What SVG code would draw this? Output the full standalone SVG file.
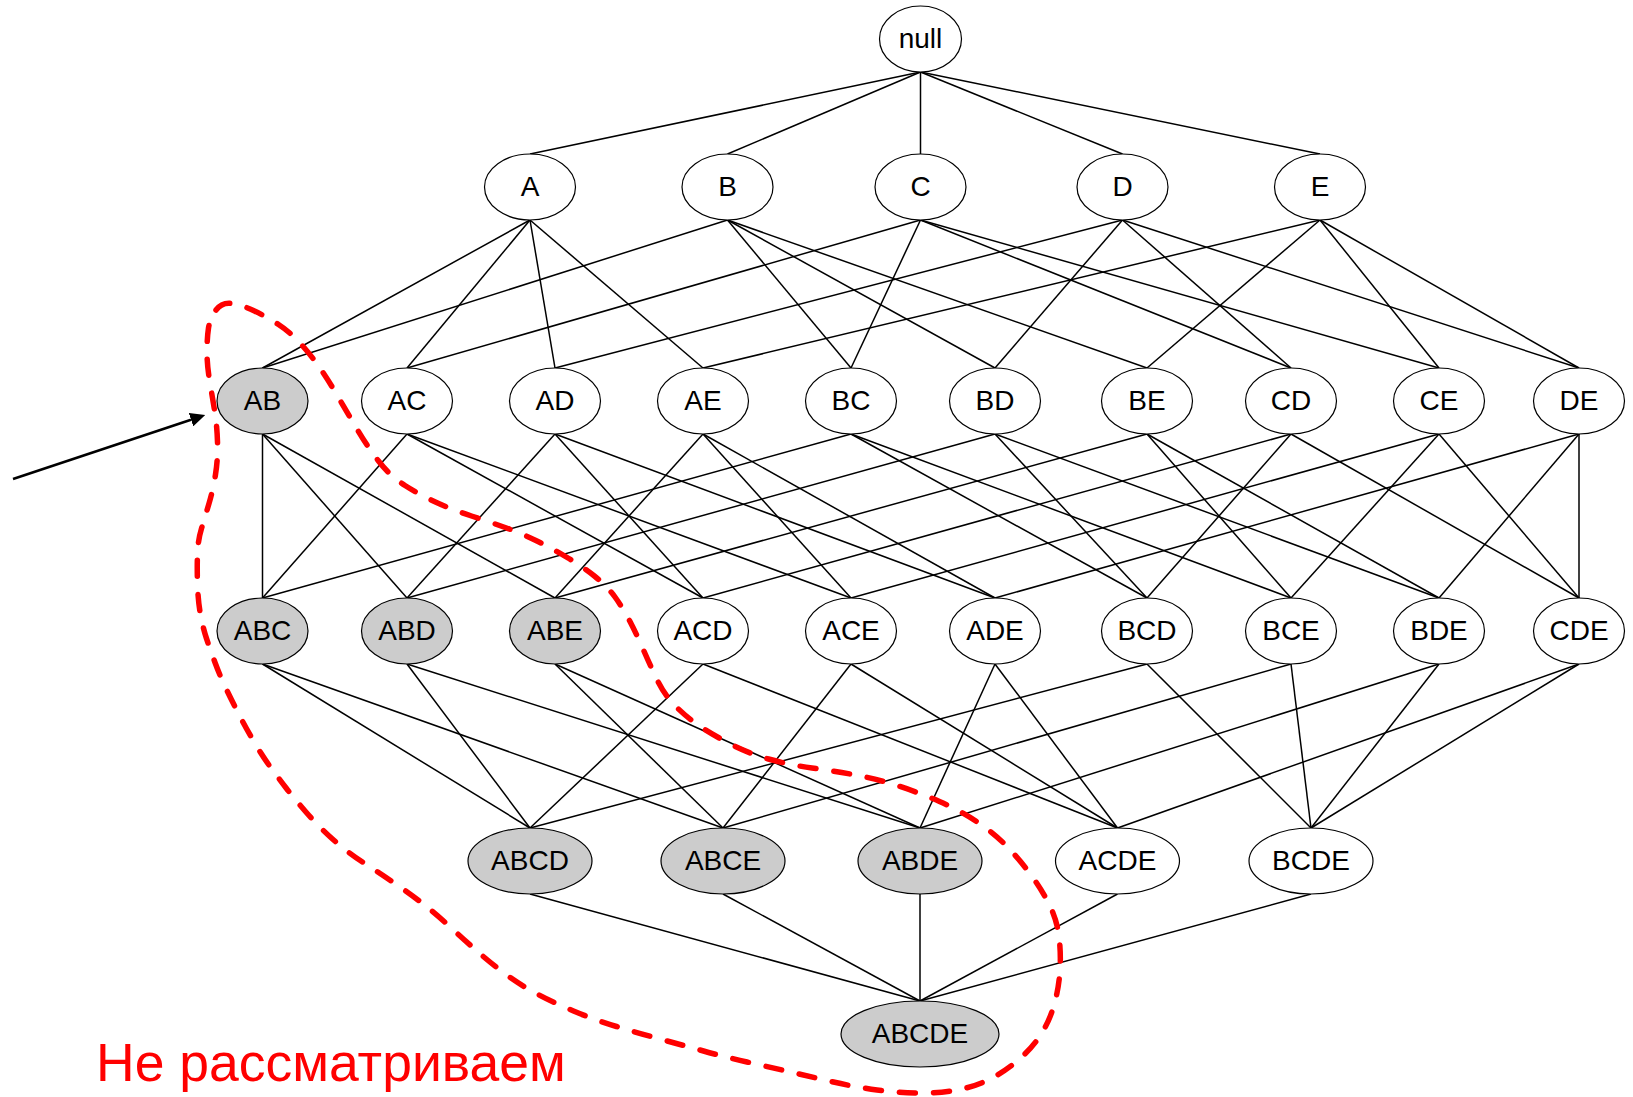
<svg xmlns="http://www.w3.org/2000/svg" width="1633" height="1097" viewBox="0 0 1633 1097">
  <style>
    .edge { stroke: #000; stroke-width: 1.5; fill: none; }
    .node ellipse { stroke: #000; stroke-width: 1.2; fill: #fff; }
    .node.pruned ellipse { fill: #cccccc; }
    .node text { font-family: "Liberation Sans", Arial, sans-serif; font-size: 28px; fill: #000; text-anchor: middle; }
    .boundary { fill: none; stroke: #ff0000; stroke-width: 5.5; stroke-dasharray: 16 18; stroke-linecap: round; }
    .pointer { stroke: #000; stroke-width: 2.5; fill: none; }
    .caption { font-family: "Liberation Sans", Arial, sans-serif; font-size: 53.5px; fill: #ff0000; }
  </style>
  <defs>
    <marker id="arrowhead" markerUnits="userSpaceOnUse" markerWidth="15" markerHeight="14" viewBox="0 0 15 14" refX="0" refY="7" orient="auto">
      <path d="M0,0 L15,7 L0,14 Z" fill="#000"/>
    </marker>
  </defs>
  <rect width="1633" height="1097" fill="#fff"/>

  <g id="connectors">
    <!-- null to 1-itemsets -->
    <line class="edge" x1="920.5" y1="72" x2="530" y2="154"/>
    <line class="edge" x1="920.5" y1="72" x2="727.5" y2="154"/>
    <line class="edge" x1="920.5" y1="72" x2="920.5" y2="154"/>
    <line class="edge" x1="920.5" y1="72" x2="1122.5" y2="154"/>
    <line class="edge" x1="920.5" y1="72" x2="1320" y2="154"/>
    <!-- 1-itemsets to 2-itemsets -->
    <line class="edge" x1="530" y1="220" x2="262.5" y2="368"/>
    <line class="edge" x1="530" y1="220" x2="407" y2="368"/>
    <line class="edge" x1="530" y1="220" x2="555" y2="368"/>
    <line class="edge" x1="530" y1="220" x2="703" y2="368"/>
    <line class="edge" x1="727.5" y1="220" x2="262.5" y2="368"/>
    <line class="edge" x1="727.5" y1="220" x2="851" y2="368"/>
    <line class="edge" x1="727.5" y1="220" x2="995" y2="368"/>
    <line class="edge" x1="727.5" y1="220" x2="1147" y2="368"/>
    <line class="edge" x1="920.5" y1="220" x2="407" y2="368"/>
    <line class="edge" x1="920.5" y1="220" x2="851" y2="368"/>
    <line class="edge" x1="920.5" y1="220" x2="1291" y2="368"/>
    <line class="edge" x1="920.5" y1="220" x2="1439" y2="368"/>
    <line class="edge" x1="1122.5" y1="220" x2="555" y2="368"/>
    <line class="edge" x1="1122.5" y1="220" x2="995" y2="368"/>
    <line class="edge" x1="1122.5" y1="220" x2="1291" y2="368"/>
    <line class="edge" x1="1122.5" y1="220" x2="1579" y2="368"/>
    <line class="edge" x1="1320" y1="220" x2="703" y2="368"/>
    <line class="edge" x1="1320" y1="220" x2="1147" y2="368"/>
    <line class="edge" x1="1320" y1="220" x2="1439" y2="368"/>
    <line class="edge" x1="1320" y1="220" x2="1579" y2="368"/>
    <!-- 2-itemsets to 3-itemsets -->
    <line class="edge" x1="262.5" y1="434" x2="262.5" y2="598"/>
    <line class="edge" x1="262.5" y1="434" x2="407" y2="598"/>
    <line class="edge" x1="262.5" y1="434" x2="555" y2="598"/>
    <line class="edge" x1="407" y1="434" x2="262.5" y2="598"/>
    <line class="edge" x1="407" y1="434" x2="703" y2="598"/>
    <line class="edge" x1="407" y1="434" x2="851" y2="598"/>
    <line class="edge" x1="555" y1="434" x2="407" y2="598"/>
    <line class="edge" x1="555" y1="434" x2="703" y2="598"/>
    <line class="edge" x1="555" y1="434" x2="995" y2="598"/>
    <line class="edge" x1="703" y1="434" x2="555" y2="598"/>
    <line class="edge" x1="703" y1="434" x2="851" y2="598"/>
    <line class="edge" x1="703" y1="434" x2="995" y2="598"/>
    <line class="edge" x1="851" y1="434" x2="262.5" y2="598"/>
    <line class="edge" x1="851" y1="434" x2="1147" y2="598"/>
    <line class="edge" x1="851" y1="434" x2="1291" y2="598"/>
    <line class="edge" x1="995" y1="434" x2="407" y2="598"/>
    <line class="edge" x1="995" y1="434" x2="1147" y2="598"/>
    <line class="edge" x1="995" y1="434" x2="1439" y2="598"/>
    <line class="edge" x1="1147" y1="434" x2="555" y2="598"/>
    <line class="edge" x1="1147" y1="434" x2="1291" y2="598"/>
    <line class="edge" x1="1147" y1="434" x2="1439" y2="598"/>
    <line class="edge" x1="1291" y1="434" x2="703" y2="598"/>
    <line class="edge" x1="1291" y1="434" x2="1147" y2="598"/>
    <line class="edge" x1="1291" y1="434" x2="1579" y2="598"/>
    <line class="edge" x1="1439" y1="434" x2="851" y2="598"/>
    <line class="edge" x1="1439" y1="434" x2="1291" y2="598"/>
    <line class="edge" x1="1439" y1="434" x2="1579" y2="598"/>
    <line class="edge" x1="1579" y1="434" x2="995" y2="598"/>
    <line class="edge" x1="1579" y1="434" x2="1439" y2="598"/>
    <line class="edge" x1="1579" y1="434" x2="1579" y2="598"/>
    <!-- 3-itemsets to 4-itemsets -->
    <line class="edge" x1="262.5" y1="664" x2="530" y2="828"/>
    <line class="edge" x1="262.5" y1="664" x2="723" y2="828"/>
    <line class="edge" x1="407" y1="664" x2="530" y2="828"/>
    <line class="edge" x1="407" y1="664" x2="920" y2="828"/>
    <line class="edge" x1="555" y1="664" x2="723" y2="828"/>
    <line class="edge" x1="555" y1="664" x2="920" y2="828"/>
    <line class="edge" x1="703" y1="664" x2="530" y2="828"/>
    <line class="edge" x1="703" y1="664" x2="1117.5" y2="828"/>
    <line class="edge" x1="851" y1="664" x2="723" y2="828"/>
    <line class="edge" x1="851" y1="664" x2="1117.5" y2="828"/>
    <line class="edge" x1="995" y1="664" x2="920" y2="828"/>
    <line class="edge" x1="995" y1="664" x2="1117.5" y2="828"/>
    <line class="edge" x1="1147" y1="664" x2="530" y2="828"/>
    <line class="edge" x1="1147" y1="664" x2="1311" y2="828"/>
    <line class="edge" x1="1291" y1="664" x2="723" y2="828"/>
    <line class="edge" x1="1291" y1="664" x2="1311" y2="828"/>
    <line class="edge" x1="1439" y1="664" x2="920" y2="828"/>
    <line class="edge" x1="1439" y1="664" x2="1311" y2="828"/>
    <line class="edge" x1="1579" y1="664" x2="1117.5" y2="828"/>
    <line class="edge" x1="1579" y1="664" x2="1311" y2="828"/>
    <!-- 4-itemsets to ABCDE -->
    <line class="edge" x1="530" y1="894" x2="920" y2="1001"/>
    <line class="edge" x1="723" y1="894" x2="920" y2="1001"/>
    <line class="edge" x1="920" y1="894" x2="920" y2="1001"/>
    <line class="edge" x1="1117.5" y1="894" x2="920" y2="1001"/>
    <line class="edge" x1="1311" y1="894" x2="920" y2="1001"/>
  </g>

  <g id="nodes">
    <g id="n-null" class="node"><ellipse cx="920.5" cy="39" rx="41" ry="33"/><text x="920.5" y="48">null</text></g>

    <g id="n-A" class="node"><ellipse cx="530" cy="187" rx="45.5" ry="33"/><text x="530" y="196">A</text></g>
    <g id="n-B" class="node"><ellipse cx="727.5" cy="187" rx="45.5" ry="33"/><text x="727.5" y="196">B</text></g>
    <g id="n-C" class="node"><ellipse cx="920.5" cy="187" rx="45.5" ry="33"/><text x="920.5" y="196">C</text></g>
    <g id="n-D" class="node"><ellipse cx="1122.5" cy="187" rx="45.5" ry="33"/><text x="1122.5" y="196">D</text></g>
    <g id="n-E" class="node"><ellipse cx="1320" cy="187" rx="45.5" ry="33"/><text x="1320" y="196">E</text></g>

    <g id="n-AB" class="node pruned"><ellipse cx="262.5" cy="401" rx="45.5" ry="33"/><text x="262.5" y="410">AB</text></g>
    <g id="n-AC" class="node"><ellipse cx="407" cy="401" rx="45.5" ry="33"/><text x="407" y="410">AC</text></g>
    <g id="n-AD" class="node"><ellipse cx="555" cy="401" rx="45.5" ry="33"/><text x="555" y="410">AD</text></g>
    <g id="n-AE" class="node"><ellipse cx="703" cy="401" rx="45.5" ry="33"/><text x="703" y="410">AE</text></g>
    <g id="n-BC" class="node"><ellipse cx="851" cy="401" rx="45.5" ry="33"/><text x="851" y="410">BC</text></g>
    <g id="n-BD" class="node"><ellipse cx="995" cy="401" rx="45.5" ry="33"/><text x="995" y="410">BD</text></g>
    <g id="n-BE" class="node"><ellipse cx="1147" cy="401" rx="45.5" ry="33"/><text x="1147" y="410">BE</text></g>
    <g id="n-CD" class="node"><ellipse cx="1291" cy="401" rx="45.5" ry="33"/><text x="1291" y="410">CD</text></g>
    <g id="n-CE" class="node"><ellipse cx="1439" cy="401" rx="45.5" ry="33"/><text x="1439" y="410">CE</text></g>
    <g id="n-DE" class="node"><ellipse cx="1579" cy="401" rx="45.5" ry="33"/><text x="1579" y="410">DE</text></g>

    <g id="n-ABC" class="node pruned"><ellipse cx="262.5" cy="631" rx="45.5" ry="33"/><text x="262.5" y="640">ABC</text></g>
    <g id="n-ABD" class="node pruned"><ellipse cx="407" cy="631" rx="45.5" ry="33"/><text x="407" y="640">ABD</text></g>
    <g id="n-ABE" class="node pruned"><ellipse cx="555" cy="631" rx="45.5" ry="33"/><text x="555" y="640">ABE</text></g>
    <g id="n-ACD" class="node"><ellipse cx="703" cy="631" rx="45.5" ry="33"/><text x="703" y="640">ACD</text></g>
    <g id="n-ACE" class="node"><ellipse cx="851" cy="631" rx="45.5" ry="33"/><text x="851" y="640">ACE</text></g>
    <g id="n-ADE" class="node"><ellipse cx="995" cy="631" rx="45.5" ry="33"/><text x="995" y="640">ADE</text></g>
    <g id="n-BCD" class="node"><ellipse cx="1147" cy="631" rx="45.5" ry="33"/><text x="1147" y="640">BCD</text></g>
    <g id="n-BCE" class="node"><ellipse cx="1291" cy="631" rx="45.5" ry="33"/><text x="1291" y="640">BCE</text></g>
    <g id="n-BDE" class="node"><ellipse cx="1439" cy="631" rx="45.5" ry="33"/><text x="1439" y="640">BDE</text></g>
    <g id="n-CDE" class="node"><ellipse cx="1579" cy="631" rx="45.5" ry="33"/><text x="1579" y="640">CDE</text></g>

    <g id="n-ABCD" class="node pruned"><ellipse cx="530" cy="861" rx="62" ry="33"/><text x="530" y="870">ABCD</text></g>
    <g id="n-ABCE" class="node pruned"><ellipse cx="723" cy="861" rx="62" ry="33"/><text x="723" y="870">ABCE</text></g>
    <g id="n-ABDE" class="node pruned"><ellipse cx="920" cy="861" rx="62" ry="33"/><text x="920" y="870">ABDE</text></g>
    <g id="n-ACDE" class="node"><ellipse cx="1117.5" cy="861" rx="62" ry="33"/><text x="1117.5" y="870">ACDE</text></g>
    <g id="n-BCDE" class="node"><ellipse cx="1311" cy="861" rx="62" ry="33"/><text x="1311" y="870">BCDE</text></g>

    <g id="n-ABCDE" class="node pruned"><ellipse cx="920" cy="1034" rx="79" ry="33"/><text x="920" y="1043">ABCDE</text></g>
  </g>

  <!-- dashed boundary around the supersets of AB -->
  <path class="boundary" d="M 216 310 Q 222 302 232 303.5 Q 242 305 254.5 311 Q 267 317 278.5 324.5 Q 290 332 300 343 Q 310 354 318.5 366 Q 327 378 337 395 Q 347 412 357 429 Q 367 446 378.5 461 Q 390 476 405 485.5 Q 420 495 436.5 502.5 Q 453 510 471.5 516 Q 490 522 506.5 528 Q 523 534 538 541.5 Q 553 549 568 558 Q 583 567 595 576.5 Q 607 586 615 597 Q 623 608 630 621.5 Q 637 635 643.5 650 Q 650 665 657 679.5 Q 664 694 673.5 704 Q 683 714 694.5 722.5 Q 706 731 726.5 742 Q 747 753 768.5 759 Q 790 765 812 768 Q 834 771 855.5 775 Q 877 779 898.5 786 Q 920 793 939.5 801.5 Q 959 810 976.5 821.5 Q 994 833 1007 846.5 Q 1020 860 1031 875 Q 1042 890 1049.5 905 Q 1057 920 1059 936.5 Q 1061 953 1060 970 Q 1059 987 1054.5 1003.5 Q 1050 1020 1041.5 1033.5 Q 1033 1047 1020 1058.5 Q 1007 1070 992 1078 Q 977 1086 959.5 1089.5 Q 942 1093 920.5 1093 Q 899 1093 877 1090 Q 855 1087 833.5 1082 Q 812 1077 790.5 1072 Q 769 1067 747 1062 Q 725 1057 703.5 1051 Q 682 1045 660 1039 Q 638 1033 616.5 1026.5 Q 595 1020 573.5 1011 Q 552 1002 534.5 992.5 Q 517 983 502 971.5 Q 487 960 474 948.5 Q 461 937 448 925 Q 435 913 422 903 Q 409 893 393.5 882.5 Q 378 872 362.5 862 Q 347 852 332.5 839 Q 318 826 305.5 811.5 Q 293 797 286.5 788.5 Q 280 780 271.5 768.5 Q 263 757 255 743.5 Q 247 730 240 716.5 Q 233 703 226.5 689.5 Q 220 676 215 662.5 Q 210 649 206.5 638.5 Q 203 628 200.5 614.5 Q 198 601 197.5 584 Q 197 567 197.5 553.5 Q 198 540 201.5 528.5 Q 205 517 209 503.5 Q 213 490 215.5 474.5 Q 218 459 217.5 442 Q 217 425 214.5 410 Q 212 395 209.5 380 Q 207 365 207 351.5 Q 207 338 208.5 328 Q 210 318 216 310 Z"/>

  <!-- pointer to AB -->
  <line class="pointer" x1="13" y1="479" x2="191" y2="419.7" marker-end="url(#arrowhead)"/>

  <text class="caption" x="96" y="1081">Не рассматриваем</text>
</svg>
